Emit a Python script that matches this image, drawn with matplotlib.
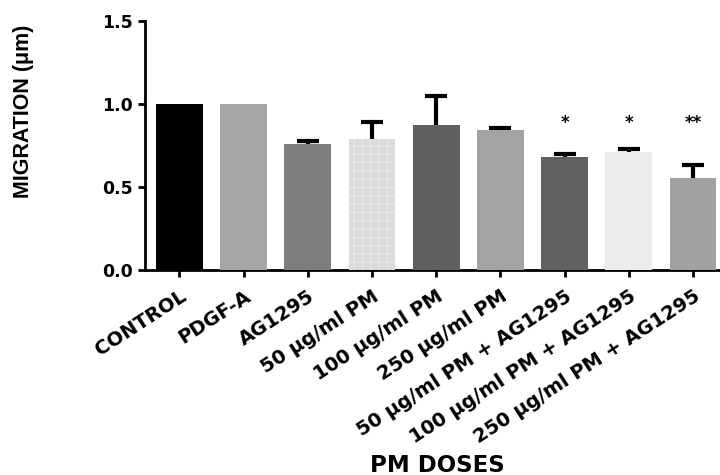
import numpy as np
import matplotlib
matplotlib.use("Agg")
import matplotlib.pyplot as plt

plt.rcParams['font.family'] = ['DejaVu Sans']

groups = ["CONTROL", "PDGF-A", "AG1295", "50 μg/ml PM", "100 μg/ml PM",
          "250 μg/ml PM", "50 μg/ml PM + AG1295", "100 μg/ml PM + AG1295",
          "250 μg/ml PM + AG1295"]
means = [1.0, 1.0, 0.76, 0.79, 0.875, 0.84, 0.68, 0.71, 0.555]
errs = [0.0, 0.0, 0.015, 0.10, 0.175, 0.015, 0.02, 0.02, 0.075]
stars = ["", "", "", "", "", "", "*", "*", "**"]
colors = ["#000000", "#a6a6a6", "#7d7d7d", "#dadada", "#5f5f5f",
          "#a3a3a3", "#616161", "#ececec", "#a1a1a1"]

fig = plt.figure(figsize=(7.2, 4.75), dpi=100)
ax = fig.add_axes([0.201, 0.432, 0.799, 0.524])

x = np.arange(len(groups))
bars = ax.bar(x, means, width=0.73, color=colors, zorder=3)
# checkered fill on the 50 ug/ml bar
bars[3].set_hatch('++')
bars[3].set_edgecolor('#e6e6e6')
bars[3].set_linewidth(0)

# only groups with a visible SEM get a bar; lower half hides behind the bar
has_err = np.array(errs) > 0
ax.errorbar(x[has_err], np.array(means)[has_err], yerr=np.array(errs)[has_err],
            fmt='none', ecolor='black', elinewidth=3, capsize=8, capthick=3,
            zorder=2)

for xi, s in zip(x, stars):
    if s:
        ax.text(xi, 0.885, s, ha='center', va='center', fontsize=12, fontweight='bold')

ax.set_xlim(-0.54, 8.42)
ax.set_ylim(0, 1.5)
ax.set_yticks([0.0, 0.5, 1.0, 1.5])
ax.set_yticklabels(["0.0", "0.5", "1.0", "1.5"], fontsize=12.5, fontweight='bold')
ax.set_xticks(x)
ax.set_xticklabels(groups, rotation=33, ha='right', rotation_mode='anchor',
                   fontsize=14, fontweight='bold')
for sp in ['top', 'right']:
    ax.spines[sp].set_visible(False)
for sp in ['left', 'bottom']:
    ax.spines[sp].set_linewidth(2)
ax.tick_params(axis='both', width=2, length=5)
ax.tick_params(axis='x', pad=7)

fig.text(0.032, 0.766, "MIGRATION (μm)", rotation=90, ha='center', va='center',
         fontsize=15.5, fontweight='bold',
         family=['Liberation Sans', 'DejaVu Sans'])
fig.text(0.608, 0.021, "PM DOSES", ha='center', va='center', fontsize=16.5,
         fontweight='bold')

fig.savefig("out.png", dpi=100)
